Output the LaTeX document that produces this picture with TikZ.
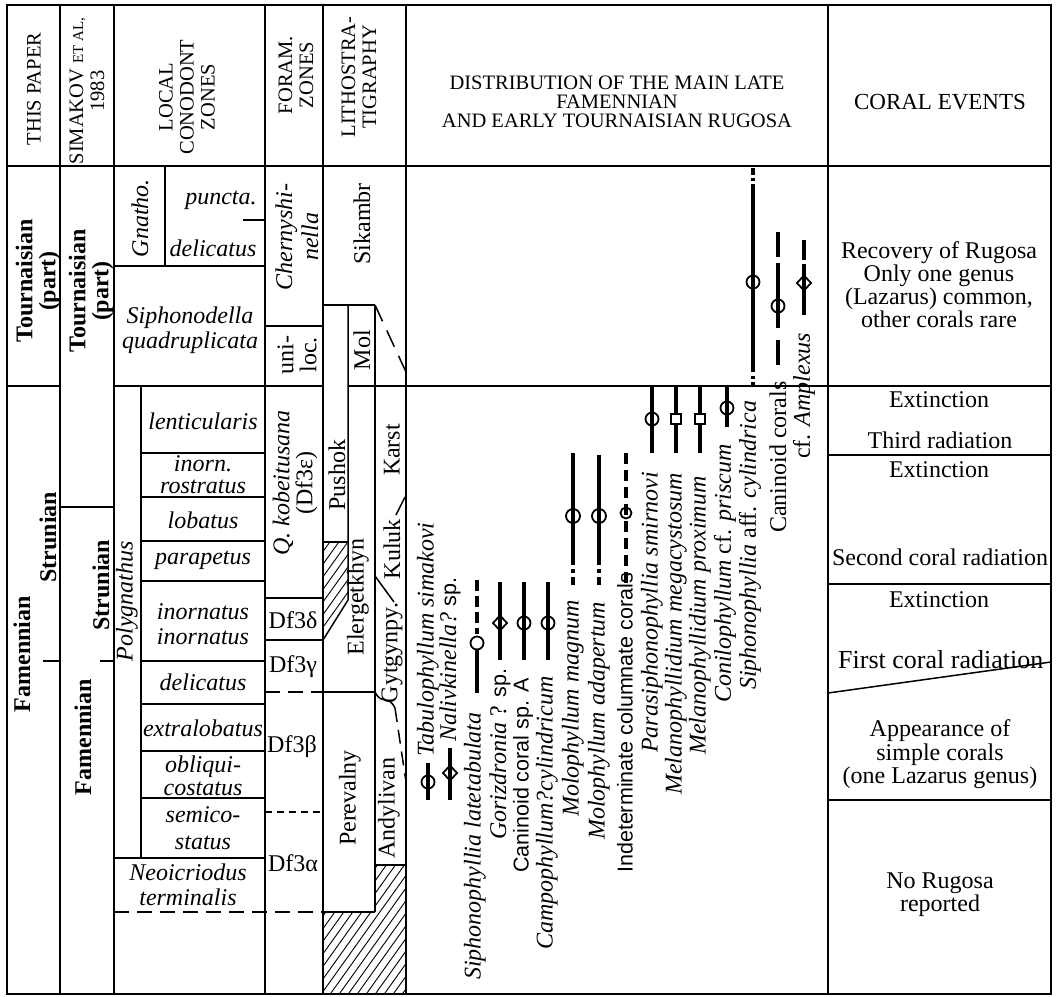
\documentclass[tikz,border=0pt]{standalone}
\usepackage{fontspec}
\setmainfont{Liberation Serif}
\newfontfamily\sansf{Liberation Sans}
\newcommand\myfs{\fontsize{24}{23}\selectfont}
\newcommand\hdfs{\fontsize{20.5}{21}\selectfont}
\newcommand\mkcirc[3][6.5pt]{\draw[mk] (#2,#3) circle[radius=#1];}
\newcommand\mksq[2]{\draw[mk,fill=white] ($(#1,#2)+(-5,-5)$) rectangle ($(#1,#2)+(5,5)$);}
\newcommand\mkdia[2]{\draw[mk] ($(#1,#2)+(0,-7.5)$) -- ++(7,7.5) -- ++(-7,7.5) -- ++(-7,-7.5) -- cycle;}
\usetikzlibrary{calc}
\begin{document}
\begin{tikzpicture}[x=1pt,y=-1pt,
  frame/.style={line width=1.5pt},
  hatchl/.style={line width=0.9pt},
  rng/.style={line width=3.8pt},
  mk/.style={line width=1.8pt},
  txt/.style={inner sep=0pt, font=\myfs},
  vtxt/.style={inner sep=0pt, font=\myfs, rotate=90, align=center},
  btxt/.style={inner sep=0pt, font=\myfs\bfseries, rotate=90, align=center},
  spc/.style={inner sep=0pt, font=\myfs, rotate=90, anchor=west},
  hd/.style={inner sep=0pt, font=\hdfs, align=center},
  longdash/.style={dash pattern=on 15pt off 8pt},
  shortdash/.style={dash pattern=on 7pt off 5pt},
]
\useasboundingbox (0,0) rectangle (1057,996);

% hatching
\begin{scope}
\clip (323,542) -- (348,542) -- (348,600) -- (323,640) -- cycle;
\foreach \t in {190,199,...,400} \draw[hatchl] (\t,700) -- ++(200,-280);
\end{scope}
\begin{scope}
\clip (375,865) -- (406,865) -- (406,994) -- (323,994) -- (323,912) -- (375,912) -- cycle;
\foreach \t in {110,119,...,420} \draw[hatchl] (\t,1000) -- ++(200,-280);
\end{scope}

% frame and columns
\draw[frame] (7,5) rectangle (1051,994);
\draw[frame] (7,166) -- (1051,166);
\foreach \x in {60,114,265,323,406,828} \draw[frame] (\x,5) -- (\x,994);
\draw[frame] (7,386) -- (60,386);
\draw[frame] (114,386) -- (323,386);
\draw[frame] (348,386) -- (1051,386);

% column 1 and 2
\draw[frame] (43,661) -- (60,661);
\draw[frame] (60,507) -- (114,507);
\draw[frame] (100,661) -- (114,661);

% column 3
\draw[frame] (165,166) -- (165,266);
\draw[frame] (114,266) -- (265,266);
\draw[frame] (243,220) -- (265,220);
\draw[frame] (141,386) -- (141,858);
\foreach \y in {453,497,541,581,661,704,751,798} \draw[frame] (141,\y) -- (265,\y);
\draw[frame] (114,858) -- (265,858);
\draw[frame,longdash] (114,912) -- (323,912);

% column 4
\draw[frame] (265,326) -- (323,326);
\draw[frame] (265,598) -- (323,598);
\draw[frame] (265,640) -- (323,640);
\draw[frame,longdash] (265,692) -- (323,692);
\draw[frame,shortdash] (265,812) -- (323,812);

% column 5 lithostratigraphy
\draw[frame] (323,305) -- (375,305);
\draw[frame,dash pattern=on 18pt off 10pt] (375,305) -- (406,372);
\draw[frame] (348,305) -- (348,600) -- (323,640);
\draw[frame] (323,542) -- (348,542);
\draw[frame] (375,305) -- (375,912);
\draw[frame] (323,692) -- (375,692);
\draw[frame] (323,912) -- (375,912);
\draw[frame] (375,865) -- (406,865);
\draw[frame] (396,515) -- (405,497);
\draw[frame] (375,576) -- (394,602);
\draw[frame] (375,692) .. controls (382,706) and (388,694) .. (395,708);
\draw[frame,dash pattern=on 14pt off 8pt] (395,708) -- (406,782);

% coral events lines
\draw[frame] (828,455) -- (1051,455);
\draw[frame] (828,584) -- (1051,584);
\draw[frame] (828,693) -- (1051,662);
\draw[frame] (828,800) -- (1051,800);

% headers
\node[hd, rotate=90] (h1) at (34,89) {THIS PAPER};
\node[hd, rotate=90] (h2) at (87,91) {SIMAKOV {\fontsize{15}{15}\selectfont ET AL,}\\1983};
\node[hd, rotate=90] (h3) at (187,97) {LOCAL\\CONODONT\\ZONES};
\node[hd, rotate=90] (h4) at (296,75) {FORAM.\\ZONES};
\node[hd, rotate=90] (h5) at (359,77) {LITHOSTRA-\\TIGRAPHY};
\node[hd, font=\fontsize{20.5}{19}\selectfont] (h6) at (617,102) {DISTRIBUTION OF THE MAIN LATE\\FAMENNIAN\\AND EARLY TOURNAISIAN RUGOSA};
\node[txt, font=\fontsize{23}{23}\selectfont] (h7) at (940,102) {CORAL EVENTS};

% stages
\node[btxt] (c1a) at (38,281) {Tournaisian\\(part)};
\node[btxt] (c1b) at (48,537) {Strunian};
\node[btxt] (c1c) at (22,654) {Famennian};
\node[btxt] (c2a) at (91,291) {Tournaisian\\(part)};
\node[btxt] (c2b) at (101,585) {Strunian};
\node[btxt] (c2c) at (83,737) {Famennian};

% conodont zones
\node[vtxt, font=\myfs\itshape] (z0) at (140,218) {Gnatho.};
\node[txt, font=\myfs\itshape] (z1) at (221,200) {puncta.};
\node[txt, font=\myfs\itshape] (z2) at (213,248) {delicatus};
\node[txt, font=\myfs\itshape, align=center] (z3) at (190,330) {Siphonodella\\[2pt]quadruplicata};
\node[vtxt, font=\myfs\itshape] (z4) at (127,601) {Polygnathus};
\node[txt, font=\myfs\itshape] (z5) at (203,421) {lenticularis};
\node[txt, font=\myfs\itshape, align=center] (z6) at (203,475) {inorn.\\[-1pt]rostratus};
\node[txt, font=\myfs\itshape] (z7) at (203,520) {lobatus};
\node[txt, font=\myfs\itshape] (z8) at (203,560) {parapetus};
\node[txt, font=\myfs\itshape, align=center] (z9) at (203,624) {inornatus\\[2pt]inornatus};
\node[txt, font=\myfs\itshape] (z10) at (203,682) {delicatus};
\node[txt, font=\myfs\itshape] (z11) at (203,728) {extralobatus};
\node[txt, font=\myfs\itshape, align=center] (z12) at (203,776) {obliqui-\\costatus};
\node[txt, font=\myfs\itshape, align=center] (z13) at (203,828) {semico-\\[4pt]status};
\node[txt, font=\myfs\itshape, align=center] (z14) at (188,885) {Neoicriodus\\[2pt]terminalis};

% foram zones
\node[vtxt, font=\myfs\itshape] (f1) at (297,237) {Chernyshi-\\[3pt]nella};
\node[vtxt] (f2) at (297,355) {uni-\\loc.};
\node[vtxt] (f3) at (295,483) {\itshape Q. kobeitusana\\(Df3ε)};
\node[txt] (f4) at (293,620) {Df3δ};
\node[txt] (f5) at (293,667) {Df3γ};
\node[txt] (f6) at (292,747) {Df3β};
\node[txt] (f7) at (293,863) {Df3α};

% lithostratigraphy
\node[vtxt] (l1) at (362,224) {Sikambr};
\node[vtxt] (l2) at (362,350) {Mol};
\node[vtxt] (l3) at (337,475) {Pushok};
\node[vtxt] (l4) at (392,450) {Karst};
\node[vtxt] (l5) at (392,549) {Kuluk};
\node[vtxt] (l6) at (358,597) {Elergetkhyn};
\node[vtxt] (l7) at (392,653) {Gytgynpy.};
\node[vtxt] (l8) at (350,798) {Perevalny};
\node[vtxt] (l9) at (389,808) {Andylivan};

% ranges
\draw[rng] (428,763) -- (428,800); \mkcirc{428}{782}
\draw[rng] (450,748) -- (450,800); \mkdia{450}{773}
\draw[rng, dash pattern=on 11pt off 5pt] (477,580) -- (477,634);
\draw[rng] (477,650) -- (477,693); \mkcirc{477}{643}
\draw[rng] (500,582) -- (500,660); \mkdia{500}{623}
\draw[rng] (524,582) -- (524,660); \mkcirc{524}{623}
\draw[rng] (548,582) -- (548,660); \mkcirc{548}{623}
\draw[rng] (573,453) -- (573,565); \draw[rng] (573,569) -- (573,573); \draw[rng] (573,577) -- (573,585); \mkcirc[7pt]{573}{516}
\draw[rng] (599,455) -- (599,565); \draw[rng] (599,569) -- (599,573); \draw[rng] (599,577) -- (599,585); \mkcirc[7pt]{599}{516}
\draw[rng, dash pattern=on 11pt off 6pt] (626,453) -- (626,585); \mkcirc[5.5pt]{626}{513}
\draw[rng] (652,386) -- (652,453); \mkcirc{652}{419}
\draw[rng] (676,386) -- (676,453); \mksq{676}{419}
\draw[rng] (700,386) -- (700,453); \mksq{700}{419}
\draw[rng] (727,386) -- (727,427); \mkcirc{727}{408}
\draw[rng] (753,168) -- (753,175); \draw[rng] (753,178) -- (753,181);
\draw[rng] (753,184) -- (753,372); \draw[rng] (753,376) -- (753,379); \draw[rng] (753,382) -- (753,386);
\mkcirc{753}{282}
\draw[rng] (778,232) -- (778,257); \draw[rng] (778,263) -- (778,328); \draw[rng] (778,340) -- (778,365);
\mkcirc{778}{306}
\draw[rng] (804,240) -- (804,260); \draw[rng] (804,264) -- (804,315); \mkdia{804}{283}

% species names
\node[spc] (s1) at (428,757) {\itshape Tabulophyllum simakovi};
\node[spc] (s2) at (450,742) {\itshape Nalivkinella?\upshape\ {\sansf\fontsize{21.5}{23}\selectfont sp.}};
\node[spc] (s3) at (475,980) {\itshape Siphonophyllia latetabulata};
\node[spc] (s4) at (500,840) {\itshape Gorizdronia\upshape\ ? {\sansf\fontsize{21.5}{23}\selectfont sp.}};
\node[spc, font=\sansf\fontsize{21.5}{23}\selectfont] (s5) at (523,873) {Caninoid coral sp. A};
\node[spc] (s6) at (547,950) {\itshape Campophyllum?cylindricum};
\node[spc] (s7) at (573,817) {\itshape Molophyllum magnum};
\node[spc] (s8) at (599,840) {\itshape Molophyllum adapertum};
\node[spc, font=\sansf\fontsize{21.5}{23}\selectfont] (s9) at (625,873) {Indeterminate columnate corals};
\node[spc] (s10) at (652,753) {\itshape Parasiphonophyllia smirnovi};
\node[spc] (s11) at (676,795) {\itshape Melanophyllidium megacystosum};
\node[spc] (s12) at (700,755) {\itshape Melanophyllidium proximum};
\node[spc] (s13) at (725,703) {\textit{Conilophyllum} cf. \textit{priscum}};
\node[spc] (s14) at (750,690) {\textit{Siphonophyllia} aff. \textit{cylindrica}};
\node[spc] (s15) at (778,533) {Caninoid corals};
\node[spc] (s16) at (804,459) {cf. \textit{Amplexus}};

% coral events
\node[txt, align=center] (e1) at (939,285) {Recovery of Rugosa\\Only one genus\\(Lazarus) common,\\other corals rare};
\node[txt] (e2) at (939,400) {Extinction};
\node[txt] (e3) at (940,440) {Third radiation};
\node[txt] (e4) at (939,470) {Extinction};
\node[txt] (e5) at (940,557) {Second coral radiation};
\node[txt] (e6) at (939,600) {Extinction};
\node[txt, anchor=west, font=\fontsize{26}{24}\selectfont] (e7) at (838,660) {First coral radiation};
\node[txt, align=center] (e8) at (940,754) {Appearance of\\[1pt]simple corals\\(one Lazarus genus)};
\node[txt, align=center] (e9) at (940,895) {No Rugosa\\reported};
\end{tikzpicture}
\end{document}
